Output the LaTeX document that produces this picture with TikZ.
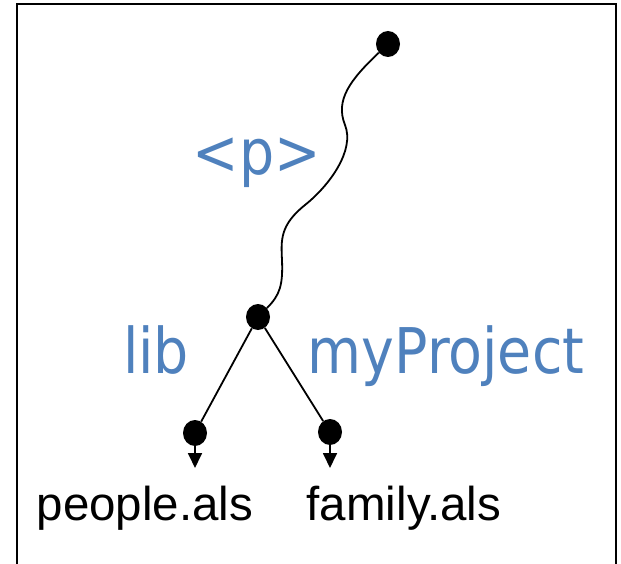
\documentclass[tikz,border=0pt]{standalone}
\usepackage{fontspec}
\setmainfont{Liberation Sans}
\newfontfamily\labfont[FakeStretch=0.88]{DejaVu Sans}
\usetikzlibrary{shapes.geometric,arrows.meta}
\definecolor{pathblue}{RGB}{79,129,189}

\begin{document}
\begin{tikzpicture}[x=1pt,y=-1pt]
\tikzset{dot/.style={ellipse,fill=black,inner sep=0pt,minimum width=24pt,minimum height=26pt}}
\tikzset{wire/.style={line width=1.8pt}}
\tikzset{seg/.style={font=\labfont\fontsize{63}{63}\selectfont,text=pathblue,anchor=base,inner sep=0pt}}
\tikzset{file/.style={font=\fontsize{47.5}{47.5}\selectfont,anchor=base,inner sep=0pt}}
\useasboundingbox (0,0) rectangle (621,564);
\draw[line width=2.5pt] (17,570) -- (17,4) -- (616,4) -- (616,570);
% points of the tree
\node[dot] (top) at (388,44) {};
\node[dot] (mid) at (258,317) {};
\node[dot] (left) at (195,433) {};
\node[dot] (right) at (330,432) {};
\coordinate (lefttip) at (195,468);
\coordinate (righttip) at (330,468);
% labels
\node[seg] (p) at (257,175) {<p>};
\node[seg] (lib) at (156,373) {lib};
\node[seg] (proj) at (446,373) {myProject};
\node[file] (people) at (145,520) {people.als};
\node[file] (family) at (404,520) {family.als};
% edges
\draw[wire] (top) .. controls (350,80) and (335,100) .. (345,125)
  .. controls (355,150) and (330,185) .. (305,205)
  .. controls (280,225) and (281,240) .. (282,260)
  .. controls (283,285) and (280,295) .. (mid);
\draw[wire] (mid) -- (left);
\draw[wire] (mid) -- (right);
\draw[wire,-{Triangle[width=14pt,length=15pt]}] (left) -- (lefttip);
\draw[wire,-{Triangle[width=14pt,length=15pt]}] (right) -- (righttip);
\end{tikzpicture}
\end{document}
